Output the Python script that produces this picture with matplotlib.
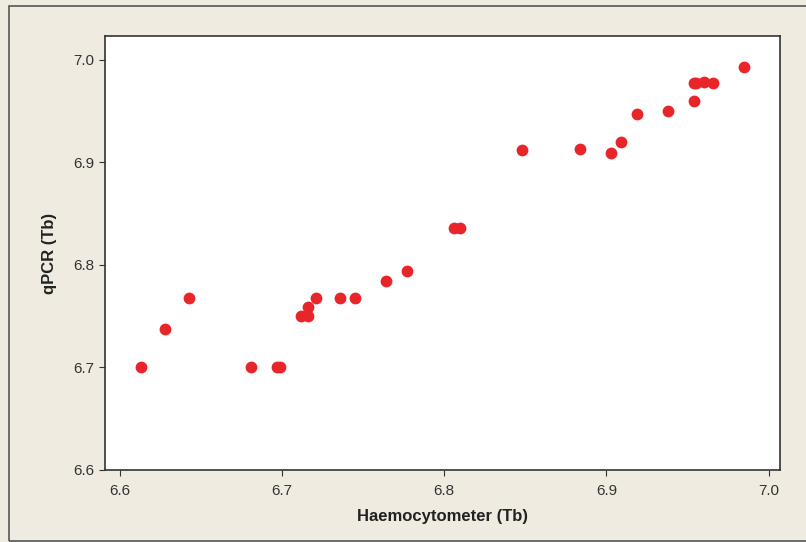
import matplotlib
matplotlib.use('Agg')
import matplotlib.pyplot as plt
from matplotlib.patches import Rectangle

# Haemocytometer vs qPCR (Tb)
haemo = [6.613, 6.628, 6.643, 6.681, 6.697, 6.699, 6.712, 6.716, 6.716, 6.721,
         6.736, 6.745, 6.764, 6.777, 6.806, 6.810, 6.848, 6.884, 6.903, 6.909,
         6.919, 6.938, 6.954, 6.954, 6.955, 6.960, 6.966, 6.985]
qpcr = [6.700, 6.737, 6.768, 6.700, 6.700, 6.700, 6.750, 6.759, 6.750, 6.768,
        6.768, 6.768, 6.784, 6.794, 6.836, 6.836, 6.912, 6.913, 6.909, 6.920,
        6.947, 6.950, 6.960, 6.977, 6.977, 6.978, 6.977, 6.993]
xticks = [6.6, 6.7, 6.8, 6.9, 7.0]
yticks = [6.6, 6.7, 6.8, 6.9, 7.0]

plt.rcParams['font.family'] = ['Liberation Sans', 'DejaVu Sans']

fig = plt.figure(figsize=(8.06, 5.42), dpi=100)
fig.patch.set_facecolor('#efebe0')
# outer frame
fig.patches.append(Rectangle((9 / 806, 1 / 542), 1.0, 535 / 542, transform=fig.transFigure,
                             fill=False, edgecolor='#555555', linewidth=1.2))

ax = fig.add_axes([105 / 806, 1 - 470 / 542, 675 / 806, 434 / 542])
ax.set_facecolor('white')
ax.plot(haemo, qpcr, 'o', color='#e8262a', markersize=8.5, markeredgewidth=0)

ax.set_xlim(6.591, 7.007)
ax.set_ylim(6.6, 7.023)
ax.set_xticks(xticks)
ax.set_yticks(yticks)
ax.set_xticklabels(['%.1f' % v for v in xticks])
ax.set_yticklabels(['%.1f' % v for v in yticks])
ax.tick_params(labelsize=11, colors='#333333', length=4)
ax.tick_params(axis='x', pad=6)
for s in ax.spines.values():
    s.set_color('#333333')
    s.set_linewidth(1.2)

ax.set_xlabel('Haemocytometer (Tb)', fontsize=12, fontweight='bold', color='#222222', labelpad=8)
ax.set_ylabel('qPCR (Tb)', fontsize=12, fontweight='bold', color='#222222', labelpad=12)

fig.savefig('out.png', dpi=100, facecolor=fig.get_facecolor())
